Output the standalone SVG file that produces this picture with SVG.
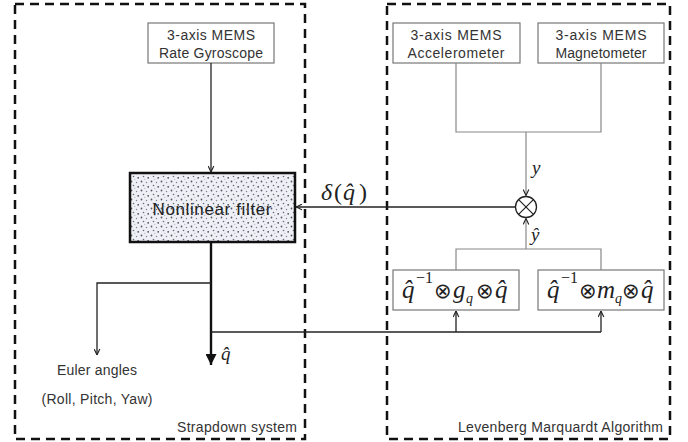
<svg xmlns="http://www.w3.org/2000/svg" width="688" height="442" viewBox="0 0 688 442">
<defs>
<style>
.region{fill:none;stroke:#111;stroke-width:2.5;stroke-dasharray:9 6}
.box{fill:#fff;stroke:#777;stroke-width:1.2}
.lbl{font-family:"Liberation Sans",Arial,sans-serif;font-size:14px;fill:#333}
.thin{fill:none;stroke:#888;stroke-width:1.2}
.dark{fill:none;stroke:#222;stroke-width:1.3}
.thick{fill:none;stroke:#111;stroke-width:2.4}
.m{font-family:"Liberation Serif","Times New Roman",serif;font-style:normal;fill:#222}
.mi{font-family:"Liberation Serif","Times New Roman",serif;font-style:italic;fill:#222}
.op{font-family:"DejaVu Sans",sans-serif;font-style:normal;fill:#222}
</style>
<pattern id="dots" width="10" height="9" patternUnits="userSpaceOnUse">
<rect width="10" height="9" fill="#eef0f6"/>
<circle cx="1.5" cy="1.5" r="0.9" fill="#555a66"/>
<circle cx="6.5" cy="2.5" r="0.7" fill="#7a8090"/>
<circle cx="3.5" cy="5.5" r="0.8" fill="#666b78"/>
<circle cx="8.2" cy="6.8" r="0.9" fill="#4a4f5a"/>
<circle cx="4.8" cy="8.2" r="0.5" fill="#9096a4"/>
</pattern>
<marker id="open" viewBox="0 0 10 10" refX="9.5" refY="5" markerWidth="7" markerHeight="7" markerUnits="userSpaceOnUse" orient="auto">
<path d="M1,1 L9.5,5 L1,9" fill="none" stroke="#222" stroke-width="1.6"/>
</marker>
<marker id="solid" viewBox="0 0 10 10" refX="10" refY="5" markerWidth="14" markerHeight="11" markerUnits="userSpaceOnUse" orient="auto">
<path d="M0,0 L10,5 L0,10 z" fill="#111"/>
</marker>
</defs>

<g id="strapdown-region">
<rect class="region" x="15" y="4" width="290" height="435"/>
<text class="lbl" x="297" y="432" text-anchor="end" textLength="120">Strapdown system</text>
</g>
<g id="lm-region">
<rect class="region" x="387" y="4" width="283" height="435"/>
<text class="lbl" x="663" y="432" text-anchor="end" textLength="205">Levenberg Marquardt Algorithm</text>
</g>

<g id="gyroscope">
<rect class="box" x="148" y="23" width="126" height="40"/>
<text class="lbl" x="211" y="40" text-anchor="middle" textLength="88">3-axis MEMS</text>
<text class="lbl" x="211" y="58" text-anchor="middle" textLength="104">Rate Gyroscope</text>
</g>

<g id="accelerometer">
<rect class="box" x="393" y="23" width="127" height="40"/>
<text class="lbl" x="456" y="40" text-anchor="middle" textLength="91">3-axis MEMS</text>
<text class="lbl" x="456" y="58" text-anchor="middle" textLength="97">Accelerometer</text>
</g>

<g id="magnetometer">
<rect class="box" x="538" y="23" width="126" height="40"/>
<text class="lbl" x="601" y="40" text-anchor="middle" textLength="91">3-axis MEMS</text>
<text class="lbl" x="601" y="58" text-anchor="middle" textLength="91">Magnetometer</text>
</g>

<g id="nonlinear-filter">
<rect x="130" y="173" width="165" height="69" fill="url(#dots)" stroke="#111" stroke-width="2.5"/>
<text x="212" y="215" text-anchor="middle" font-family="Liberation Sans, Arial, sans-serif" font-size="17" fill="#222" textLength="119">Nonlinear filter</text>
</g>

<g id="comparator">
<circle cx="526" cy="207" r="10.5" fill="#fff" stroke="#222" stroke-width="1.3"/>
<path d="M518.6,199.6 L533.4,214.4 M533.4,199.6 L518.6,214.4" stroke="#222" stroke-width="1.2" fill="none"/>
</g>

<g id="gravity-rotation">
<rect class="box" x="393" y="270" width="126" height="40"/>
<text class="mi" font-size="25"><tspan x="402" y="298">q&#x302;</tspan><tspan class="m" x="416" y="283" font-size="16">−1</tspan><tspan class="op" x="434" y="298" font-size="21">⊗</tspan><tspan x="453" y="298">g</tspan><tspan x="466" y="303" font-size="14">q</tspan><tspan class="op" x="476" y="298" font-size="21">⊗</tspan><tspan x="495" y="298">q&#x302;</tspan></text>
</g>

<g id="magnetic-rotation">
<rect class="box" x="538" y="270" width="126" height="40"/>
<text class="mi" font-size="25"><tspan x="547" y="298">q&#x302;</tspan><tspan class="m" x="561" y="283" font-size="16">−1</tspan><tspan class="op" x="579" y="298" font-size="21">⊗</tspan><tspan x="597" y="298">m</tspan><tspan x="615" y="303" font-size="14">q</tspan><tspan class="op" x="622" y="298" font-size="21">⊗</tspan><tspan x="641" y="298">q&#x302;</tspan></text>
</g>

<g id="euler-angles">
<text class="lbl" x="97" y="375" text-anchor="middle" textLength="80">Euler angles</text>
<text class="lbl" x="97" y="404" text-anchor="middle" textLength="111">(Roll, Pitch, Yaw)</text>
</g>

<g id="connectors">
<path class="dark" d="M211,63 V172" marker-end="url(#open)"/>
<path class="thin" d="M456,63 V132 H601 V63"/>
<path class="thin" d="M526,132 V195.5" marker-end="url(#open)"/>
<path class="dark" d="M515.5,207 H296" marker-end="url(#open)"/>
<path class="thin" d="M456,270 V249 H601 V270"/>
<path class="thin" d="M526,249 V218.5" marker-end="url(#open)"/>
<path class="thick" d="M211,242 V365" marker-end="url(#solid)"/>
<path class="dark" d="M211,283 H97 V355" marker-end="url(#open)"/>
<path class="dark" d="M211,332 H601"/>
<path class="dark" d="M456,332 V311" marker-end="url(#open)"/>
<path class="dark" d="M601,332 V311" marker-end="url(#open)"/>
</g>

<g id="labels">
<text class="mi" font-size="24"><tspan x="321" y="200">δ</tspan><tspan class="m" x="334" y="200">(</tspan><tspan x="343" y="200">q&#x302;</tspan><tspan class="m" x="359" y="200">)</tspan></text>
<text class="mi" x="532" y="174" font-size="19">y</text>
<text class="mi" x="531" y="241" font-size="19">y&#x302;</text>
<text class="mi" x="221" y="360" font-size="19">q&#x302;</text>
</g>
</svg>
